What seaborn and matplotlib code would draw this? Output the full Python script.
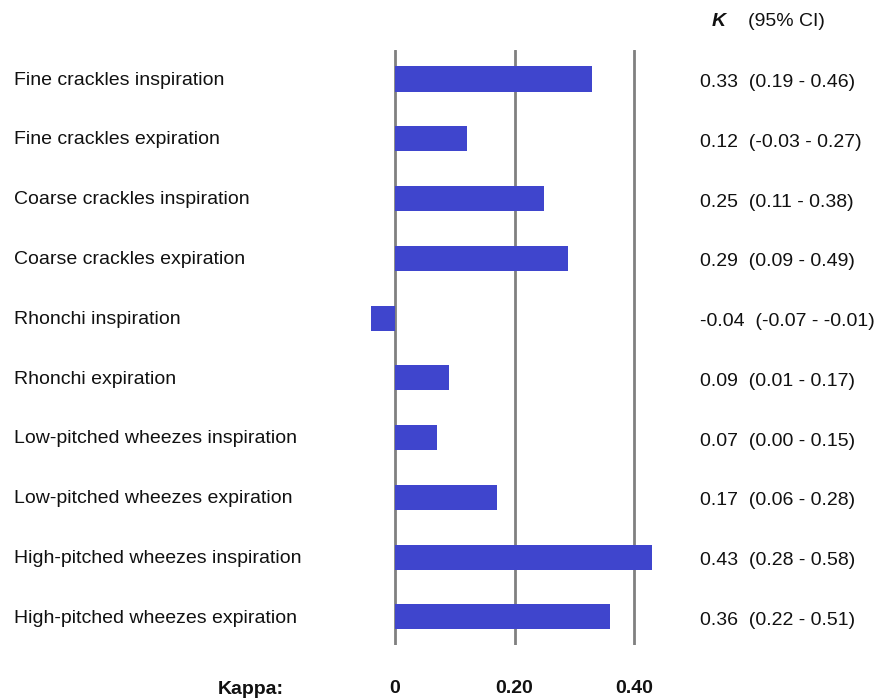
import matplotlib
matplotlib.use("Agg")
import matplotlib.pyplot as plt
import matplotlib.transforms as mtransforms
import seaborn as sns
import pandas as pd

categories = [
    "Fine crackles inspiration",
    "Fine crackles expiration",
    "Coarse crackles inspiration",
    "Coarse crackles expiration",
    "Rhonchi inspiration",
    "Rhonchi expiration",
    "Low-pitched wheezes inspiration",
    "Low-pitched wheezes expiration",
    "High-pitched wheezes inspiration",
    "High-pitched wheezes expiration",
]
kappa = [0.33, 0.12, 0.25, 0.29, -0.04, 0.09, 0.07, 0.17, 0.43, 0.36]
ci_low = [0.19, -0.03, 0.11, 0.09, -0.07, 0.01, 0.00, 0.06, 0.28, 0.22]
ci_high = [0.46, 0.27, 0.38, 0.49, -0.01, 0.17, 0.15, 0.28, 0.58, 0.51]
tick_values = [0, 0.20, 0.40]
tick_labels = ["0", "0.20", "0.40"]

sns.set_theme(style="white")
plt.rcParams["font.family"] = ["Liberation Sans", "DejaVu Sans"]

W, H = 891, 699
fig = plt.figure(figsize=(W / 100, H / 100), dpi=100)
# axes in pixel coordinates: left 360, right 670, top 50, bottom 645
ax = fig.add_axes([360 / W, 1 - 645 / H, (670 - 360) / W, (645 - 50) / H])

df = pd.DataFrame({"cat": categories, "kappa": kappa})
sns.barplot(data=df, x="kappa", y="cat", orient="h", color="#3F45CD",
            saturation=1, width=0.42, ax=ax, zorder=3, linewidth=0, edgecolor="none")

for t in tick_values:
    ax.axvline(t, color="#808080", lw=2, zorder=2)

ax.set_xlim(-0.0586, 0.460)
ax.set_ylim(9.47, -0.485)
for s in ax.spines.values():
    s.set_visible(False)
ax.set_xlabel("")
ax.set_ylabel("")
ax.set_yticks([])
ax.set_xticks(tick_values)
fs = 14
ax.set_xticklabels(tick_labels, fontsize=fs, fontweight="bold", color="#111111")
ax.tick_params(axis="x", length=0, pad=25)

trans_left = mtransforms.blended_transform_factory(fig.transFigure, ax.transData)
for i, c in enumerate(categories):
    fig.text(14 / W, i + 0.02, c, transform=trans_left, ha="left", va="center", fontsize=fs,
             color="#111111")
    ci = f"{kappa[i]:.2f}  ({ci_low[i]:.2f} - {ci_high[i]:.2f})"
    fig.text(700 / W, i + 0.06, ci, transform=trans_left, ha="left", va="center", fontsize=fs,
             color="#111111")

fig.text(719 / W, 1 - 21 / H, "K", ha="center", va="center", fontsize=fs,
         fontweight="bold", fontstyle="italic", color="#111111")
fig.text(748 / W, 1 - 21 / H, "(95% CI)", ha="left", va="center", fontsize=fs, color="#111111")
fig.text(251 / W, 1 - 689 / H, "Kappa:", ha="center", va="center", fontsize=fs,
         fontweight="bold", color="#111111")

fig.savefig("out.png", dpi=100, facecolor="white")
